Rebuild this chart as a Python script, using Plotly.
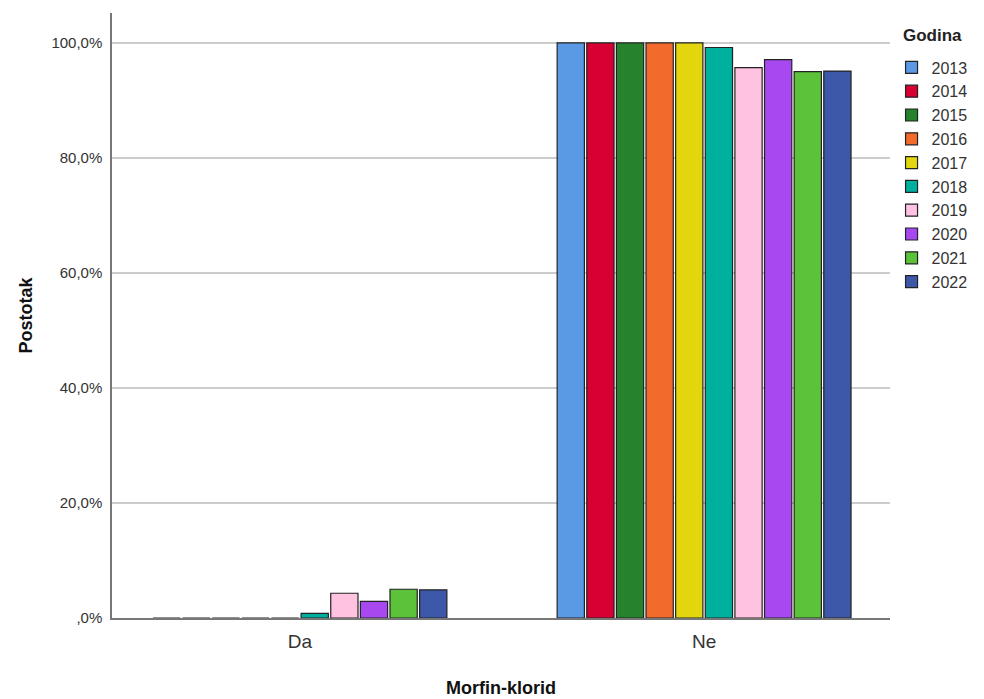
import plotly.graph_objects as go

categories = ["Da", "Ne"]
years = ["2013", "2014", "2015", "2016", "2017", "2018", "2019", "2020", "2021", "2022"]
da_values = [0.0, 0.0, 0.0, 0.0, 0.0, 0.8, 4.3, 2.9, 5.0, 4.9]
ne_values = [100.0, 100.0, 100.0, 100.0, 100.0, 99.2, 95.7, 97.1, 95.0, 95.1]
colors = ["#5a99e3", "#d60032", "#26822c", "#f26b2c", "#e3d60f",
          "#00b09e", "#ffc2e0", "#a848f0", "#5cc23a", "#3d58a8"]
y_tick_vals = [0, 20, 40, 60, 80, 100]
y_tick_text = [",0%", "20,0%", "40,0%", "60,0%", "80,0%", "100,0%"]

font = "Liberation Sans, Arial, sans-serif"

fig = go.Figure()
for i, yr in enumerate(years):
    fig.add_trace(go.Bar(
        x=categories,
        y=[da_values[i], ne_values[i]],
        name=yr,
        marker=dict(color=colors[i], line=dict(color="#222222", width=1.2)),
    ))

fig.add_annotation(
    text="<b>Godina</b>", xref="paper", yref="paper",
    x=1.0145, y=0.9636, xanchor="left", yanchor="middle",
    showarrow=False, font=dict(size=17, color="#222222"),
)

fig.update_layout(
    width=984, height=699,
    margin=dict(l=104, r=102, t=5, b=89, autoexpand=False),
    paper_bgcolor="white", plot_bgcolor="white",
    barmode="group", bargap=0.267, bargroupgap=0.08,
    font=dict(family=font, color="#222222"),
    legend=dict(
        x=1.002, xanchor="left", y=0.938, yanchor="top",
        font=dict(size=16, color="#333333"),
        tracegroupgap=0, itemwidth=30,
    ),
    xaxis=dict(
        type="category", range=[-0.465, 1.46], automargin=False,
        showline=True, linecolor="#777777", linewidth=1.5,
        ticks="outside", ticklen=5, tickcolor="rgba(0,0,0,0)",
        tickfont=dict(size=19, color="#333333"),
        title=dict(text="<b>Morfin-klorid</b>", font=dict(size=18, color="#111111"), standoff=31),
        showgrid=False, zeroline=False,
    ),
    yaxis=dict(
        range=[0, 105.2], automargin=False,
        tickvals=y_tick_vals, ticktext=y_tick_text,
        tickfont=dict(size=15, color="#333333"),
        ticks="outside", ticklen=5, tickcolor="rgba(0,0,0,0)",
        showline=True, linecolor="#777777", linewidth=1.5,
        showgrid=True, gridcolor="#cccccc", gridwidth=1.5,
        zeroline=False,
        title=dict(text="<b>Postotak</b>", font=dict(size=18, color="#111111"), standoff=14),
    ),
)

fig.write_html("out.html")
